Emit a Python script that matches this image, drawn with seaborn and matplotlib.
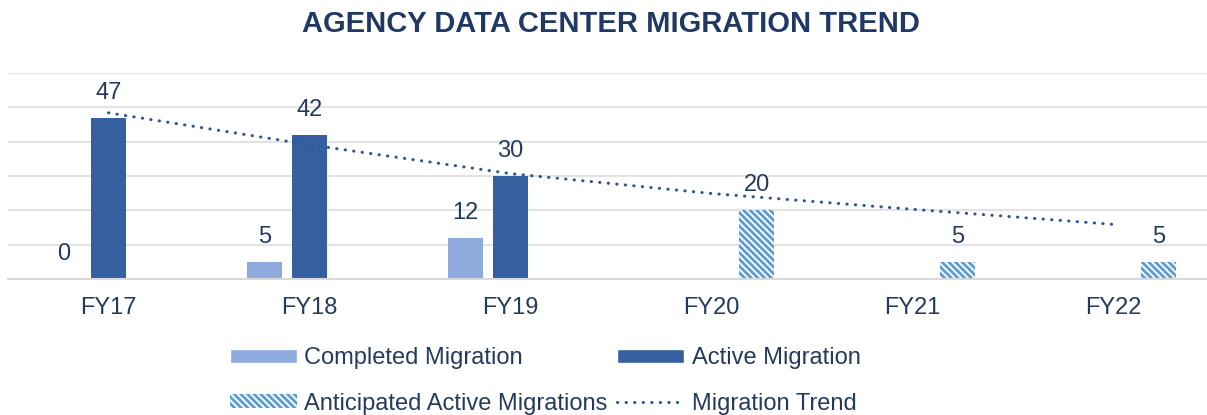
import numpy as np
import pandas as pd
import matplotlib
matplotlib.use('Agg')
import matplotlib.pyplot as plt
import matplotlib.patches as mpatches
import matplotlib.lines as mlines
import seaborn as sns

# chart data
years = ['FY17', 'FY18', 'FY19', 'FY20', 'FY21', 'FY22']
completed = [0, 5, 12]            # FY17-FY19
active = [47, 42, 30]             # FY17-FY19
anticipated = [20, 5, 5]          # FY20-FY22
trend = [48.4, 39.1, 30.7, 24.9, 20.3, 15.9]
series = ['Completed Migration', 'Active Migration', 'Anticipated Active Migrations']

c_completed = '#8faadc'
c_active = '#365f9f'
c_anticipated = '#5b9bd5'
c_trend = '#2f5597'
c_text = '#263a5e'
hatch = '\\' * 5

rows = []
for y, v in zip(years[:3], completed):
    rows.append((y, series[0], v))
for y, v in zip(years[:3], active):
    rows.append((y, series[1], v))
for y, v in zip(years[3:], anticipated):
    rows.append((y, series[2], v))
df = pd.DataFrame(rows, columns=['year', 'series', 'value'])

sns.set_style('white')
plt.rcParams['font.family'] = ['Liberation Sans', 'DejaVu Sans']
plt.rcParams['hatch.linewidth'] = 2.0

fig = plt.figure(figsize=(12.07, 4.15), dpi=100)
ax = fig.add_axes([0.0066, 0.3277, 0.9994, 0.4964])

sns.barplot(data=df, x='year', y='value', hue='series', order=years,
            hue_order=series, palette=[c_completed, c_active, 'white'],
            width=0.672, gap=0.22, dodge=True, legend=False, ax=ax,
            linewidth=0, saturation=1)

# hatched anticipated bars
for bar in ax.containers[2]:
    bar.set_hatch(hatch)
    bar.set_edgecolor(c_anticipated)
    bar.set_linewidth(0)

for cont in ax.containers:
    ax.bar_label(cont, fmt='%g', padding=10, fontsize=17, color=c_text)

sns.lineplot(x=np.arange(len(years)), y=trend, ax=ax, color=c_trend, lw=2.2,
             linestyle=(0, (0.1, 2.7)), dash_capstyle='round', zorder=1)

ax.set_xlim(-0.5, 5.5)
ax.set_ylim(0, 60)
ax.set_yticks(range(0, 61, 10))
ax.set_yticklabels([])
ax.tick_params(axis='y', length=0)
ax.tick_params(axis='x', length=0, pad=13, labelsize=17, labelcolor=c_text)
ax.yaxis.grid(True, color='#e3e3e3', lw=1.5)
ax.set_axisbelow(True)
ax.set_xlabel('')
ax.set_ylabel('')
for s in ['top', 'left', 'right']:
    ax.spines[s].set_visible(False)
ax.spines['bottom'].set_color('#d9d9d9')
ax.spines['bottom'].set_linewidth(1.5)

fig.text(0.506, 0.942, 'AGENCY DATA CENTER MIGRATION TREND', ha='center',
         va='center', fontsize=21, fontweight='bold', color='#1f3864')

h_completed = mpatches.Patch(facecolor=c_completed, label=series[0])
h_active = mpatches.Patch(facecolor=c_active, label=series[1])
h_anticipated = mpatches.Patch(facecolor='white', edgecolor=c_anticipated,
                               hatch=hatch, linewidth=0, label=series[2])
h_trend = mlines.Line2D([], [], color=c_trend, lw=2.2, linestyle=(0, (0.1, 2.7)),
                        dash_capstyle='round', label='Migration Trend')
fig.legend(handles=[h_completed, h_anticipated, h_active, h_trend], ncol=2,
           loc='upper left', bbox_to_anchor=(230 / 1207, 1 - 347 / 415),
           frameon=False, borderpad=0, borderaxespad=0, fontsize=17,
           labelcolor=c_text, handlelength=2.85, handleheight=0.55,
           handletextpad=0.3, columnspacing=0.4, labelspacing=1.0)

fig.savefig('out.png', dpi=100)
